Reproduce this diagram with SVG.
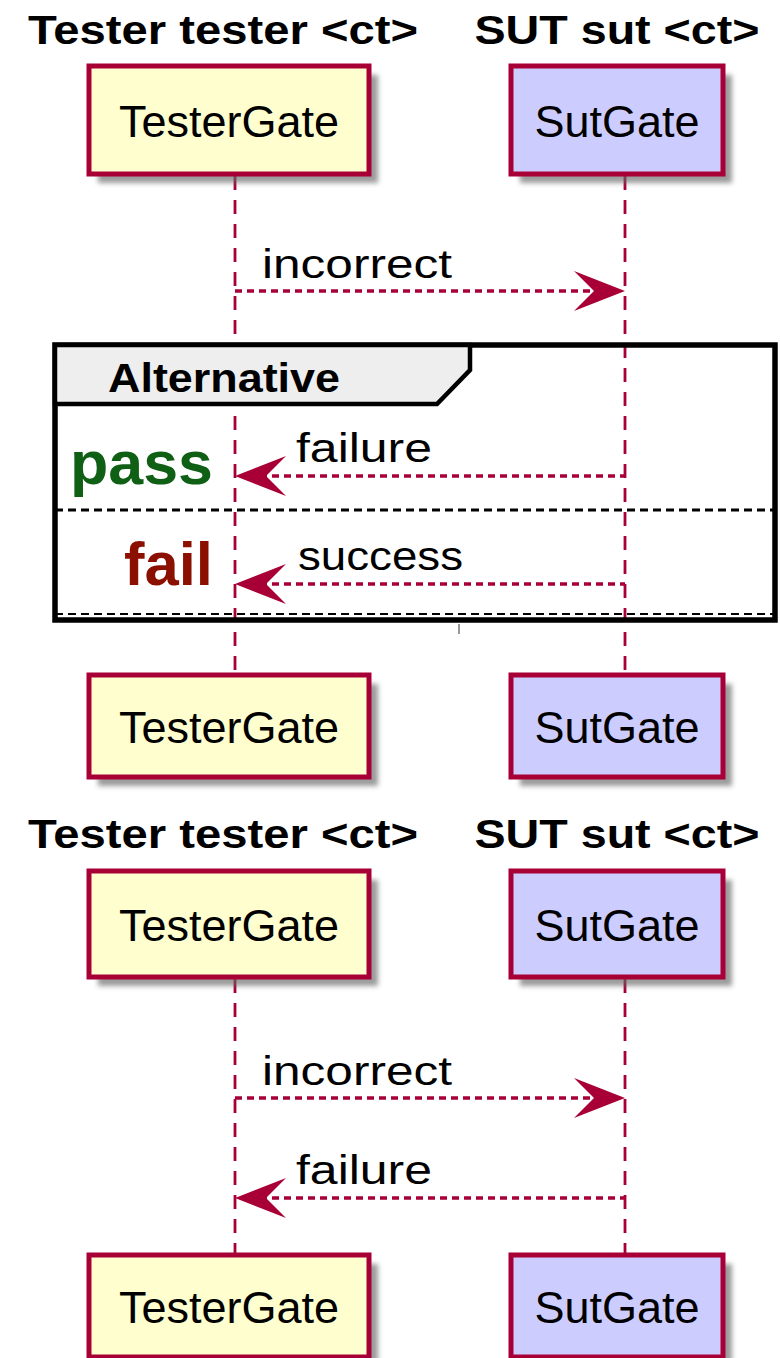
<svg xmlns="http://www.w3.org/2000/svg" width="780" height="1358" viewBox="0 0 780 1358">
<defs>
<filter id="sh" x="-10%" y="-10%" width="130%" height="130%"><feGaussianBlur stdDeviation="2.5"/></filter>
<style>
.title{font-family:"Liberation Sans",Arial,sans-serif;font-weight:bold;font-size:40px;fill:#000;text-anchor:middle}
.ptxt{font-family:"Liberation Sans",Arial,sans-serif;font-size:45px;fill:#000;text-anchor:middle}
.msg{font-family:"Liberation Sans",Arial,sans-serif;font-size:40px;fill:#000}
.tb{fill:#FEFECE;stroke:#A80036;stroke-width:5}
.sb{fill:#CCCCFF;stroke:#A80036;stroke-width:5}
.shd{fill:#666;opacity:0.65;filter:url(#sh)}
.life{stroke:#A80036;stroke-width:2.8;stroke-dasharray:14 10;fill:none}
.line{stroke:#A80036;stroke-width:3.5;stroke-dasharray:7 5;fill:none}
.head{fill:#A80036}
</style>
</defs>
<g id="lifelines">
<line class="life" x1="235" y1="176" x2="235" y2="675"/>
<line class="life" x1="625" y1="176" x2="625" y2="675"/>
<line class="life" x1="235" y1="979" x2="235" y2="1255"/>
<line class="life" x1="625" y1="979" x2="625" y2="1255"/>
</g>
<g id="alt">
<rect x="55" y="345" width="720" height="275" fill="none" stroke="#000" stroke-width="5.5"/>
<path d="M55,345 H470 V370 L437,404 H55 Z" fill="#EEEEEE" stroke="#000" stroke-width="4.5"/>
<text x="108" y="392" font-family="Liberation Sans,Arial,sans-serif" font-weight="bold" font-size="41" textLength="232" lengthAdjust="spacingAndGlyphs">Alternative</text>
<line x1="55" y1="510" x2="775" y2="510" stroke="#000" stroke-width="3" stroke-dasharray="8 5"/>
<line x1="55" y1="614" x2="775" y2="614" stroke="#000" stroke-width="2" stroke-dasharray="8 5"/>
<text x="70" y="484" font-family="Liberation Sans,Arial,sans-serif" font-weight="bold" font-size="62" fill="#0F5F14" textLength="143" lengthAdjust="spacingAndGlyphs">pass</text>
<text x="124" y="585" font-family="Liberation Sans,Arial,sans-serif" font-weight="bold" font-size="62" fill="#8B1000" textLength="89" lengthAdjust="spacingAndGlyphs">fail</text>
<line x1="459" y1="624" x2="459" y2="634" stroke="#999" stroke-width="2"/>
</g>
<g id="connectors">
<line class="line" x1="235" y1="291" x2="600" y2="291"/>
<polygon class="head" points="625,291 574,271 594,291 574,311"/>
<text class="msg" x="262" y="278" textLength="190" lengthAdjust="spacingAndGlyphs">incorrect</text>
<line class="line" x1="260" y1="476" x2="625" y2="476"/>
<polygon class="head" points="235,476 286,456 266,476 286,496"/>
<text class="msg" x="296" y="462" textLength="136" lengthAdjust="spacingAndGlyphs">failure</text>
<line class="line" x1="260" y1="584" x2="625" y2="584"/>
<polygon class="head" points="235,584 286,564 266,584 286,604"/>
<text class="msg" x="298" y="570" textLength="165" lengthAdjust="spacingAndGlyphs">success</text>
<line class="line" x1="235" y1="1098" x2="600" y2="1098"/>
<polygon class="head" points="625,1098 574,1078 594,1098 574,1118"/>
<text class="msg" x="262" y="1085" textLength="190" lengthAdjust="spacingAndGlyphs">incorrect</text>
<line class="line" x1="260" y1="1198" x2="625" y2="1198"/>
<polygon class="head" points="235,1198 286,1178 266,1198 286,1218"/>
<text class="msg" x="296" y="1184" textLength="136" lengthAdjust="spacingAndGlyphs">failure</text>
</g>
<g id="titles">
<text class="title" x="223" y="44" textLength="390" lengthAdjust="spacingAndGlyphs">Tester tester &lt;ct&gt;</text>
<text class="title" x="617" y="44" textLength="285" lengthAdjust="spacingAndGlyphs">SUT sut &lt;ct&gt;</text>
<text class="title" x="223" y="848" textLength="390" lengthAdjust="spacingAndGlyphs">Tester tester &lt;ct&gt;</text>
<text class="title" x="617" y="848" textLength="285" lengthAdjust="spacingAndGlyphs">SUT sut &lt;ct&gt;</text>
</g>
<g id="tester-top">
<rect class="shd" x="98" y="75" width="280" height="108"/>
<rect class="tb" x="89" y="66" width="280" height="108"/>
<text class="ptxt" x="229" y="137">TesterGate</text>
</g>
<g id="sut-top">
<rect class="shd" x="520" y="75" width="212" height="108"/>
<rect class="sb" x="511" y="66" width="212" height="108"/>
<text class="ptxt" x="617" y="137">SutGate</text>
</g>
<g id="tester-bottom1">
<rect class="shd" x="98" y="684" width="280" height="102"/>
<rect class="tb" x="89" y="675" width="280" height="102"/>
<text class="ptxt" x="229" y="743">TesterGate</text>
</g>
<g id="sut-bottom1">
<rect class="shd" x="520" y="684" width="212" height="102"/>
<rect class="sb" x="511" y="675" width="212" height="102"/>
<text class="ptxt" x="617" y="743">SutGate</text>
</g>
<g id="tester-top2">
<rect class="shd" x="98" y="880" width="280" height="106"/>
<rect class="tb" x="89" y="871" width="280" height="106"/>
<text class="ptxt" x="229" y="941">TesterGate</text>
</g>
<g id="sut-top2">
<rect class="shd" x="520" y="880" width="212" height="106"/>
<rect class="sb" x="511" y="871" width="212" height="106"/>
<text class="ptxt" x="617" y="941">SutGate</text>
</g>
<g id="tester-bottom2">
<rect class="shd" x="98" y="1264" width="280" height="102"/>
<rect class="tb" x="89" y="1255" width="280" height="102"/>
<text class="ptxt" x="229" y="1323">TesterGate</text>
</g>
<g id="sut-bottom2">
<rect class="shd" x="520" y="1264" width="212" height="102"/>
<rect class="sb" x="511" y="1255" width="212" height="102"/>
<text class="ptxt" x="617" y="1323">SutGate</text>
</g>
</svg>
